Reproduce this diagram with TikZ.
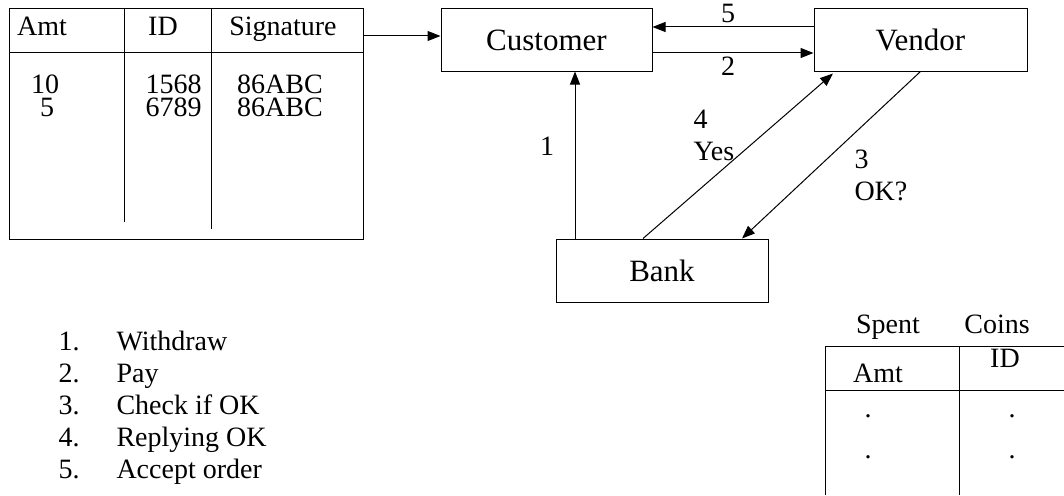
\documentclass[tikz,border=0pt]{standalone}
\usepackage{fontspec}
\setmainfont{Liberation Serif}
\usetikzlibrary{arrows.meta,positioning}

\begin{document}
\begin{tikzpicture}[x=1pt,y=-1pt,>={Triangle[length=13pt,width=10pt]},line width=1pt]
    \tikzstyle{box}=[draw,rectangle,inner sep=0pt,font=\fontsize{31}{36}\selectfont]
    \tikzstyle{lbl}=[inner sep=0pt,anchor=base,font=\fontsize{28}{32}\selectfont]

    \useasboundingbox (0,0) rectangle (1064,495);

    \node[box, minimum width=211pt, minimum height=62pt] (cust) at (546.5,40)  {Customer};
    \node[box, minimum width=213pt, minimum height=62pt] (vend) at (920.5,40)  {Vendor};
    \node[box, minimum width=212pt, minimum height=63pt] (bank) at (662,270.5) {Bank};

    % wallet of coins
    \node[draw, rectangle, inner sep=0pt, minimum width=354pt, minimum height=230pt] (wallet) at (186,124) {};
    \draw (9,53) -- (363,53);
    \draw (124,9) -- (124,222);
    \draw (211,9) -- (211,229);

    \node[lbl] (wamt) at (42,36)  {Amt};
    \node[lbl] (wid)  at (163,36) {ID};
    \node[lbl] (wsig) at (283,36) {Signature};

    \node[lbl]              (amta) at (45,93)   {10};
    \node[lbl]              (amtb) at (47,116)  {5};
    \node[lbl, anchor=base east] (ida) at (202,93)  {1568};
    \node[lbl, anchor=base east] (idb) at (202,116) {6789};
    \node[lbl]              (siga) at (280,93)  {86ABC};
    \node[lbl]              (sigb) at (280,116) {86ABC};

    \coordinate (wout) at (363,36);
    \draw[->] (wout) -- (cust.west |- wout);

    \path[->]
        ([yshift=13pt]vend.west)  edge ([yshift=13pt]cust.east)
        ([yshift=-13pt]cust.east) edge ([yshift=-13pt]vend.west)
        ([xshift=-87pt]bank.north) edge ([xshift=28.5pt]cust.south)
        ([xshift=-19pt]bank.north) edge ([xshift=-87.5pt,yshift=-2pt]vend.south)
        (vend.south) edge ([xshift=80pt]bank.north)
        ;

    \node[lbl] (n5) at (728,23)  {5};
    \node[lbl] (n2) at (728,75)  {2};
    \node[lbl] (n1) at (547,155) {1};
    \node[lbl, anchor=base west] (n4)  at (693,128) {4};
    \node[lbl, anchor=base west] (yes) at (693,160) {Yes};
    \node[lbl, anchor=base west] (n3)  at (854,168) {3};
    \node[lbl, anchor=base west] (ok)  at (854,200) {OK?};

    % steps
    \foreach \i/\t in {1/Withdraw,2/Pay,3/Check if OK,4/Replying OK,5/Accept order} {
        \node[lbl, anchor=base west] (num\i)  at (58,{350+32*(\i-1)})  {\i.};
        \node[lbl, anchor=base west] (step\i) at (116,{350+32*(\i-1)}) {\t};
    }

    % spent coins
    \node[lbl] (spent) at (888,333) {Spent};
    \node[lbl] (coins) at (997,333) {Coins};
    \draw (825,495) -- (825,346) -- (1064,346);
    \draw (959,346) -- (959,495);
    \draw (825,390) -- (1064,390);
    \node[lbl] (samt) at (878,382) {Amt};
    \node[lbl] (sid)  at (1005,367) {ID};
    \foreach \y in {417,458} {
        \node[lbl] (dota\y) at (868,\y)  {.};
        \node[lbl] (dotb\y) at (1012,\y) {.};
    }
\end{tikzpicture}
\end{document}
